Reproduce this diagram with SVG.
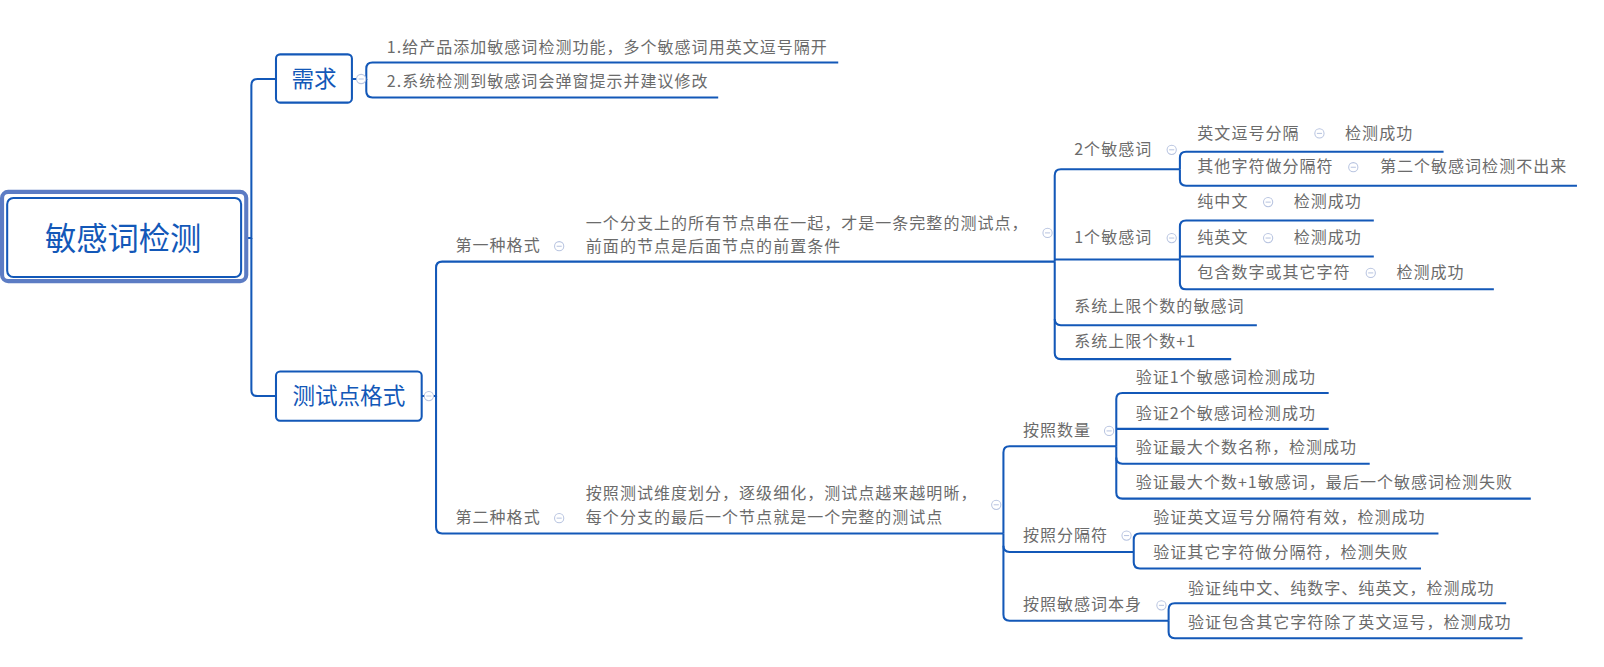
<svg xmlns="http://www.w3.org/2000/svg" width="1604" height="667" viewBox="0 0 1604 667">
<style>
.c{fill:none;stroke:#1358b8;stroke-width:2}
.t{font-family:"Noto Sans CJK SC","Liberation Sans",sans-serif;font-size:15.6px;fill:#6b6b6b;letter-spacing:1px}
.b{font-family:"Noto Sans CJK SC","Liberation Sans",sans-serif;fill:#1358b8}
.box{fill:#fff;stroke:#1358b8;stroke-width:2}
.o{fill:#fff;stroke:#b8c4e0;stroke-width:1}
.m{stroke:#b8c4e0;stroke-width:1}
</style>
<defs>
<g id="col"><circle class="o" r="4.5"/><line class="m" x1="-2.5" y1="0" x2="2.5" y2="0"/></g>
</defs>
<rect width="1604" height="667" fill="#fff"/>
<g transform="scale(1.026)">
<g id="connectors">
<path class="c" d="M236,232 H245 V83 Q245,77 251,77 H269"/>
<path class="c" d="M245,232 V380 Q245,386 251,386 H269"/>
<path class="c" d="M343,77 H357 V67 Q357,61 363,61 H817"/>
<path class="c" d="M357,77 V89 Q357,95 363,95 H700"/>
<path class="c" d="M411,386 H425 V261 Q425,255 431,255 H1028"/>
<path class="c" d="M425,386 V514 Q425,520 431,520 H978"/>
<path class="c" d="M1028,255 V171 Q1028,165 1034,165 H1150"/>
<path class="c" d="M1028,253 H1150"/>
<path class="c" d="M1028,255 V311 Q1028,317 1034,317 H1225"/>
<path class="c" d="M1028,311 V344 Q1028,350 1034,350 H1200"/>
<path class="c" d="M1150,165 V154 Q1150,148 1156,148 H1407"/>
<path class="c" d="M1150,165 V175 Q1150,181 1156,181 H1537"/>
<path class="c" d="M1150,253 V221 Q1150,215 1156,215 H1339"/>
<path class="c" d="M1150,250 H1339"/>
<path class="c" d="M1150,253 V276 Q1150,282 1156,282 H1456"/>
<path class="c" d="M978,520 V441 Q978,435 984,435 H1088"/>
<path class="c" d="M978,520 V532 Q978,538 984,538 H1105"/>
<path class="c" d="M978,532 V599 Q978,605 984,605 H1139"/>
<path class="c" d="M1088,435 V389 Q1088,383 1094,383 H1295"/>
<path class="c" d="M1088,418 H1295"/>
<path class="c" d="M1088,435 V446 Q1088,452 1094,452 H1335"/>
<path class="c" d="M1088,446 V480 Q1088,486 1094,486 H1492"/>
<path class="c" d="M1105,538 V526 Q1105,520 1111,520 H1402"/>
<path class="c" d="M1105,538 V548 Q1105,554 1111,554 H1385"/>
<path class="c" d="M1139,605 V594 Q1139,588 1145,588 H1468"/>
<path class="c" d="M1139,605 V616 Q1139,622 1145,622 H1484"/>
</g>
<g id="root">
<rect x="2" y="187" width="238" height="87" rx="6" fill="#fff" stroke="#5c7cc4" stroke-width="4"/>
<rect x="7" y="193" width="228" height="77" rx="6" class="box" stroke-width="2.5"/>
<text class="b" x="120" y="244" font-size="30.5" text-anchor="middle">敏感词检测</text>
</g>
<g id="xuqiu">
<rect x="269" y="53" width="74" height="47" rx="4" class="box"/>
<text class="b" x="306" y="85" font-size="22" text-anchor="middle">需求</text>
<use href="#col" x="352" y="77"/>
</g>
<g id="req1"><text class="t" x="377" y="52">1.给产品添加敏感词检测功能，多个敏感词用英文逗号隔开</text></g>
<g id="req2"><text class="t" x="377" y="85">2.系统检测到敏感词会弹窗提示并建议修改</text></g>
<g id="ceshi">
<rect x="269" y="362" width="142" height="48" rx="4" class="box"/>
<text class="b" x="340" y="394" font-size="22" text-anchor="middle">测试点格式</text>
<use href="#col" x="418" y="386"/>
</g>
<g id="fmt1">
<text class="t" x="444" y="245">第一种格式</text><use href="#col" x="545" y="240"/>
<text class="t" x="571" y="223">一个分支上的所有节点串在一起，才是一条完整的测试点，</text>
<text class="t" x="571" y="246">前面的节点是后面节点的前置条件</text><use href="#col" x="1021" y="227"/>
</g>
<g id="n2">
<text class="t" x="1047" y="151">2个敏感词</text><use href="#col" x="1142" y="146"/>
<text class="t" x="1167" y="135">英文逗号分隔</text><use href="#col" x="1286" y="130"/><text class="t" x="1311" y="135">检测成功</text>
<text class="t" x="1167" y="168">其他字符做分隔符</text><use href="#col" x="1319" y="163"/><text class="t" x="1345" y="168">第二个敏感词检测不出来</text>
</g>
<g id="n1">
<text class="t" x="1047" y="237">1个敏感词</text><use href="#col" x="1142" y="232"/>
<text class="t" x="1167" y="202">纯中文</text><use href="#col" x="1236" y="197"/><text class="t" x="1261" y="202">检测成功</text>
<text class="t" x="1167" y="237">纯英文</text><use href="#col" x="1236" y="232"/><text class="t" x="1261" y="237">检测成功</text>
<text class="t" x="1167" y="271">包含数字或其它字符</text><use href="#col" x="1336" y="266"/><text class="t" x="1361" y="271">检测成功</text>
</g>
<g id="nmax"><text class="t" x="1047" y="304">系统上限个数的敏感词</text></g>
<g id="nmax1"><text class="t" x="1047" y="338">系统上限个数+1</text></g>
<g id="fmt2">
<text class="t" x="444" y="510">第二种格式</text><use href="#col" x="545" y="505"/>
<text class="t" x="571" y="486">按照测试维度划分，逐级细化，测试点越来越明晰，</text>
<text class="t" x="571" y="510">每个分支的最后一个节点就是一个完整的测试点</text><use href="#col" x="971" y="492"/>
</g>
<g id="cnt">
<text class="t" x="997" y="425">按照数量</text><use href="#col" x="1081" y="420"/>
<text class="t" x="1107" y="373">验证1个敏感词检测成功</text>
<text class="t" x="1107" y="408">验证2个敏感词检测成功</text>
<text class="t" x="1107" y="442">验证最大个数名称，检测成功</text>
<text class="t" x="1107" y="476">验证最大个数+1敏感词，最后一个敏感词检测失败</text>
</g>
<g id="sep">
<text class="t" x="997" y="527">按照分隔符</text><use href="#col" x="1098" y="522"/>
<text class="t" x="1124" y="510">验证英文逗号分隔符有效，检测成功</text>
<text class="t" x="1124" y="544">验证其它字符做分隔符，检测失败</text>
</g>
<g id="self">
<text class="t" x="997" y="595">按照敏感词本身</text><use href="#col" x="1132" y="590"/>
<text class="t" x="1158" y="579">验证纯中文、纯数字、纯英文，检测成功</text>
<text class="t" x="1158" y="612">验证包含其它字符除了英文逗号，检测成功</text>
</g>
</g>
</svg>
